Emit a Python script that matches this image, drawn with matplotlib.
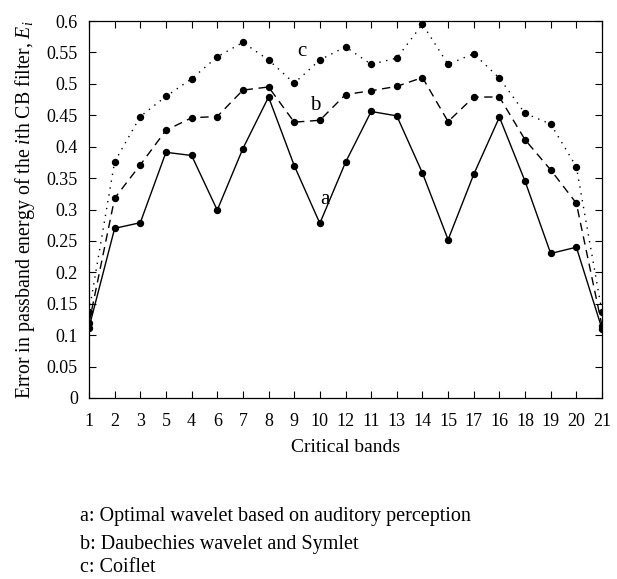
import matplotlib
matplotlib.use("Agg")
import matplotlib.pyplot as plt

plt.rcParams['font.family'] = ['Liberation Serif', 'DejaVu Serif']
plt.rcParams['mathtext.fontset'] = 'custom'
plt.rcParams['mathtext.rm'] = 'Liberation Serif'
plt.rcParams['mathtext.it'] = 'Liberation Serif:italic'

band_labels = ["1", "2", "3", "5", "4", "6", "7", "8", "9", "10", "12",
               "11", "13", "14", "15", "17", "16", "18", "19", "20", "21"]

series_a = [0.112, 0.270, 0.279, 0.391, 0.386, 0.299, 0.397, 0.479, 0.370, 0.278, 0.375,
            0.456, 0.449, 0.358, 0.252, 0.356, 0.447, 0.345, 0.230, 0.240, 0.110]
series_b = [0.119, 0.318, 0.371, 0.426, 0.446, 0.448, 0.490, 0.495, 0.439, 0.442, 0.483,
            0.489, 0.496, 0.510, 0.440, 0.479, 0.479, 0.411, 0.363, 0.310, 0.115]
series_c = [0.137, 0.376, 0.448, 0.480, 0.508, 0.543, 0.566, 0.538, 0.501, 0.538, 0.559,
            0.531, 0.541, 0.595, 0.531, 0.548, 0.509, 0.453, 0.436, 0.368, 0.137]

legend_lines = ["a: Optimal wavelet based on auditory perception",
                "b: Daubechies wavelet and Symlet",
                "c: Coiflet"]

fig = plt.figure(figsize=(6.17, 5.79), dpi=100)
ax = fig.add_axes([89/617, 1 - 398/579, (602 - 89)/617, (398 - 21)/579])

x = list(range(len(band_labels)))
kw = dict(color='black', marker='o', markersize=4.3, linewidth=1.0)
ax.plot(x, series_a, linestyle='-', **kw)
ax.plot(x, series_b, linestyle=(0, (6, 4)), **kw)
ax.plot(x, series_c, linestyle=(0, (1, 4)), **kw)

ax.text(8.29, 0.551, "c", fontsize=15, ha='center', va='center')
ax.text(8.81, 0.466, "b", fontsize=15, ha='center', va='center')
ax.text(9.2, 0.3165, "a", fontsize=15, ha='center', va='center')

ax.set_xlim(0, len(band_labels) - 1)
ax.set_ylim(0, 0.6)
ax.set_xticks(x)
ax.set_xticklabels(band_labels)
yt = [i * 0.05 for i in range(13)]
ax.set_yticks(yt)
ax.set_yticklabels(["0", "0.05", "0.1", "0.15", "0.2", "0.25", "0.3", "0.35",
                    "0.4", "0.45", "0.5", "0.55", "0.6"])
ax.tick_params(direction='in', top=True, right=True, labelsize=13, length=5, width=0.8)
ax.tick_params(axis='x', pad=11)
ax.tick_params(axis='y', pad=8)
for s in ax.spines.values():
    s.set_linewidth(0.9)

ax.set_xlabel("Critical bands", fontsize=14, labelpad=6)
ax.set_ylabel("Error in passband energy of the $\\mathit{i}$th CB filter, $E_i$",
              fontsize=14.3, labelpad=7)

for i, line in enumerate(legend_lines):
    fig.text(80/617, 1 - [516, 545, 568][i]/579, line, fontsize=14.5, ha='left', va='center')

fig.savefig("out.png", dpi=100)
